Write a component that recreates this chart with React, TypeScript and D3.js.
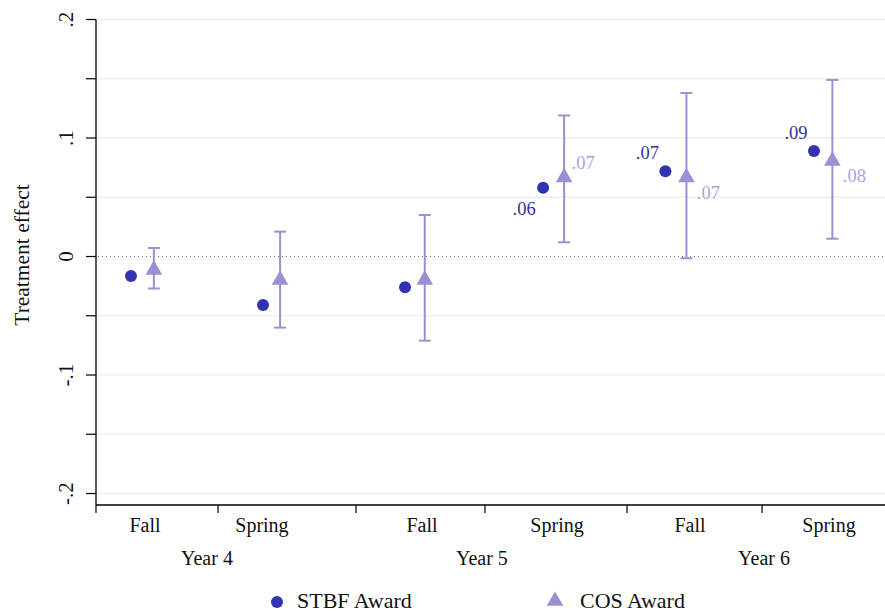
import React from "react";
import * as d3 from "d3";

// ---- data ----
const categories = ["Fall", "Spring", "Fall", "Spring", "Fall", "Spring"];
const years = ["Year 4", "Year 5", "Year 6"];
// positions on the continuous x axis (Stata-like x values)
const stbfX = [0.266, 1.27, 2.35, 3.4, 4.33, 5.46];
const cosX = [0.44, 1.4, 2.5, 3.56, 4.49, 5.6];
const catLabelX = [0.373, 1.262, 2.479, 3.506, 4.517, 5.574];
const tickX = [0, 0.928, 1.977, 2.958, 4.038, 5.065];
const yearLabelX = [0.844, 2.935, 5.08];

const stbf = [-0.0165, -0.041, -0.026, 0.058, 0.072, 0.089];
const cos = [-0.01, -0.0185, -0.0185, 0.068, 0.068, 0.082];
const cosLo = [-0.027, -0.06, -0.071, 0.012, -0.0015, 0.015];
const cosHi = [0.0072, 0.021, 0.035, 0.119, 0.138, 0.149];
const stbfLabels = ["", "", "", ".06", ".07", ".09"];
const cosLabels = ["", "", "", ".07", ".07", ".08"];
// label clock positions
const stbfLabelPos = [0, 0, 0, 7, 10, 10];
const cosLabelPos = [0, 0, 0, 2, 4, 4];

const yTicks = [-0.2, -0.1, 0, 0.1, 0.2];
const yTickLabels = ["-.2", "-.1", "0", ".1", ".2"];
const yGrid = [-0.2, -0.15, -0.1, -0.05, 0.05, 0.1, 0.15, 0.2];

const W = 885;
const H = 614;
const STBF_COLOR = "#3232b2";
const COS_COLOR = "#9891d4";
const COS_LABEL = "#a9a3e2";
const FONT = "'Liberation Serif', 'Times New Roman', 'DejaVu Serif', serif";

const clockOffset: Record<number, [number, number]> = {
  2: [19, -13],
  4: [22, 17],
  7: [-19, 21],
  10: [-18, -18],
};

const T = (props: any) => <text {...props} style={{ fontFamily: FONT }} />;

export default function App() {
  const x = d3.scaleLinear().domain([0, 6]).range([96, 885]);
  const y = d3.scaleLinear().domain([0, 0.2]).range([256.5, 19.5]);
  const yBottom = 505;
  const tri = d3.symbol().type(d3.symbolTriangle).size(120);

  return (
    <svg
      width={W}
      height={H}
      style={{ position: "absolute", left: 0, top: 0, background: "#fff", fontFamily: FONT }}
    >
      <rect width={W} height={H} fill="#fff" />
      {/* grid */}
      {yGrid.map((v, i) => (
        <line key={"g" + i} x1={x(0)} x2={W} y1={y(v)} y2={y(v)} stroke="#eaf1f3" strokeWidth={1.6} />
      ))}
      {/* zero line */}
      <line x1={x(0) + 2} x2={W} y1={y(0)} y2={y(0)} stroke="#6a6a6a" strokeWidth={1.2} strokeDasharray="1 3" />
      {/* y axis */}
      <line x1={x(0)} x2={x(0)} y1={y(0.2)} y2={yBottom} stroke="#000" strokeWidth={1.3} />
      {[...yGrid, 0].map((v, i) => (
        <line key={"yt" + i} x1={x(0) - 10} x2={x(0)} y1={y(v)} y2={y(v)} stroke="#000" strokeWidth={1.2} />
      ))}
      {yTicks.map((v, i) => (
        <T
          key={"yl" + i}
          transform={`translate(73,${y(v)}) rotate(-90)`}
          textAnchor="middle"
          fontSize={21}
          fill="#111"
        >
          {yTickLabels[i]}
        </T>
      ))}
      <T transform={`translate(29,${255}) rotate(-90)`} textAnchor="middle" fontSize={21.5} fill="#111">
        Treatment effect
      </T>
      {/* x axis */}
      <line x1={x(0)} x2={W} y1={yBottom} y2={yBottom} stroke="#000" strokeWidth={1.3} />
      {tickX.map((v, i) => (
        <line key={"xt" + i} x1={x(v)} x2={x(v)} y1={yBottom} y2={yBottom + 8} stroke="#000" strokeWidth={1.2} />
      ))}
      {categories.map((c, i) => (
        <T key={"c" + i} x={x(catLabelX[i])} y={532} textAnchor="middle" fontSize={20} fill="#111">
          {c}
        </T>
      ))}
      {years.map((c, i) => (
        <T key={"yr" + i} x={x(yearLabelX[i])} y={565} textAnchor="middle" fontSize={20} fill="#111">
          {c}
        </T>
      ))}
      {/* COS error bars */}
      {cos.map((_, i) => (
        <g key={"e" + i} stroke={COS_COLOR} strokeWidth={2}>
          <line x1={x(cosX[i])} x2={x(cosX[i])} y1={y(cosLo[i])} y2={y(cosHi[i])} />
          <line x1={x(cosX[i]) - 6} x2={x(cosX[i]) + 6} y1={y(cosLo[i])} y2={y(cosLo[i])} />
          <line x1={x(cosX[i]) - 6} x2={x(cosX[i]) + 6} y1={y(cosHi[i])} y2={y(cosHi[i])} />
        </g>
      ))}
      {/* COS markers */}
      {cos.map((v, i) => (
        <path
          key={"t" + i}
          d={tri() as string}
          transform={`translate(${x(cosX[i])},${y(v) + 1.5})`}
          fill={COS_COLOR}
        />
      ))}
      {/* STBF markers */}
      {stbf.map((v, i) => (
        <circle key={"s" + i} cx={x(stbfX[i])} cy={y(v)} r={6} fill={STBF_COLOR} />
      ))}
      {/* labels */}
      {stbfLabels.map((l, i) =>
        l ? (
          <T
            key={"sl" + i}
            x={x(stbfX[i]) + clockOffset[stbfLabelPos[i]][0]}
            y={y(stbf[i]) + clockOffset[stbfLabelPos[i]][1]}
            textAnchor="middle"
            dominantBaseline="central"
            fontSize={18.5}
            fill="#33339a"
          >
            {l}
          </T>
        ) : null
      )}
      {cosLabels.map((l, i) =>
        l ? (
          <T
            key={"cl" + i}
            x={x(cosX[i]) + clockOffset[cosLabelPos[i]][0]}
            y={y(cos[i]) + clockOffset[cosLabelPos[i]][1]}
            textAnchor="middle"
            dominantBaseline="central"
            fontSize={18.5}
            fill={COS_LABEL}
          >
            {l}
          </T>
        ) : null
      )}
      {/* legend */}
      <circle cx={277} cy={602} r={6} fill={STBF_COLOR} />
      <T x={297} y={608} fontSize={22} fill="#111">
        STBF Award
      </T>
      <path d={tri() as string} transform={`translate(555,${601})`} fill={COS_COLOR} />
      <T x={580} y={608} fontSize={22} fill="#111">
        COS Award
      </T>
    </svg>
  );
}
